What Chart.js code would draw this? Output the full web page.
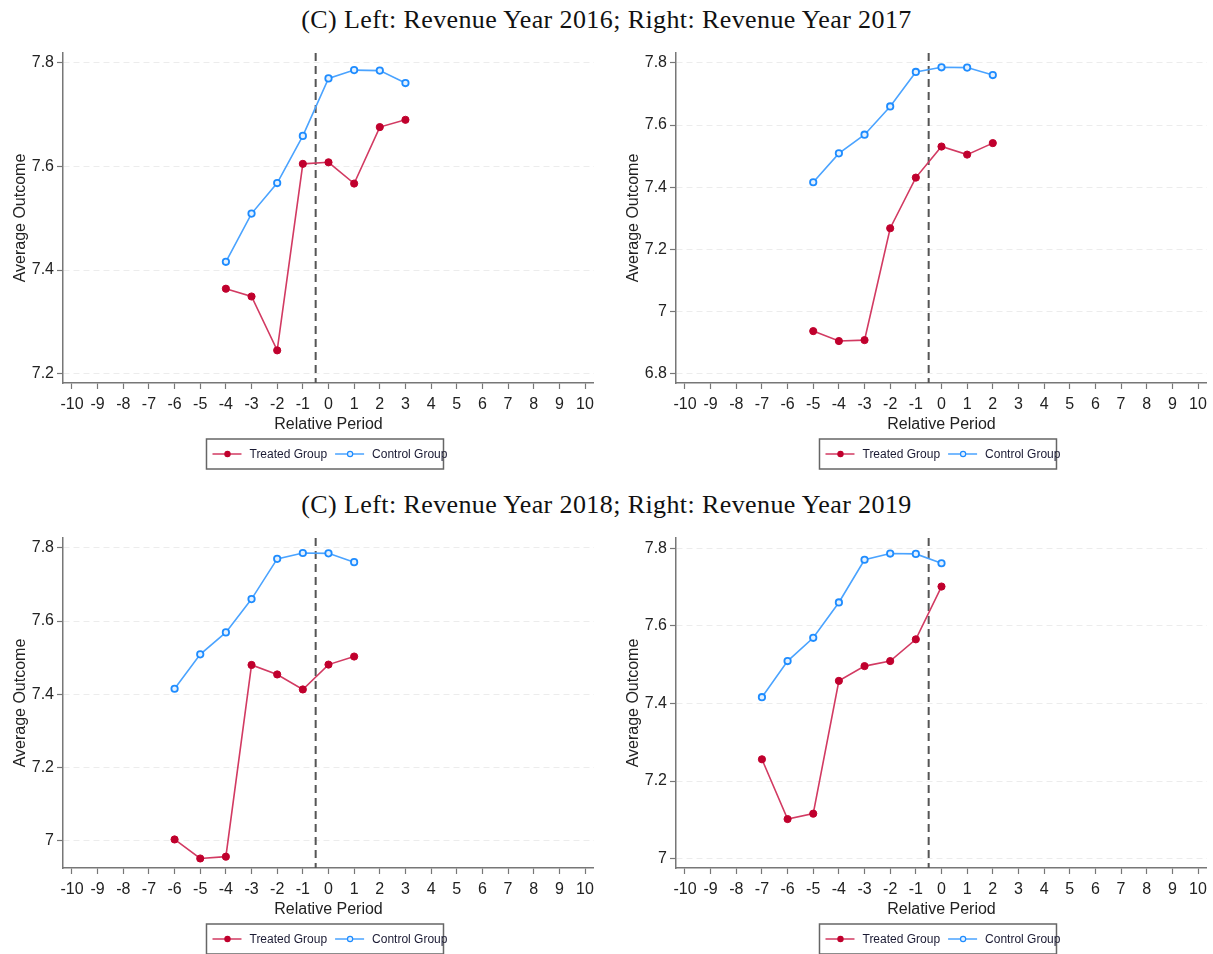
<!DOCTYPE html>
<html>
<head>
<meta charset="utf-8">
<script src="https://cdn.jsdelivr.net/npm/chart.js@4.4.1/dist/chart.umd.min.js"></script>
<style>
  body { margin: 0; width: 1213px; height: 954px; background: #fff; position: relative; overflow: hidden; }
  .title { position: absolute; left: 0; width: 1213px; text-align: center; font-family: "Liberation Serif", serif; font-size: 26px; letter-spacing: 0.4px; line-height: 30px; color: #111; }
  canvas { position: absolute; }
</style>
</head>
<body>
<div class="title" style="top:5px">(C) Left: Revenue Year 2016; Right: Revenue Year 2017</div>
<div class="title" style="top:490px">(C) Left: Revenue Year 2018; Right: Revenue Year 2019</div>
<canvas id="c2016" width="600" height="440" style="left:0;top:38px"></canvas>
<canvas id="c2017" width="600" height="440" style="left:613px;top:38px"></canvas>
<canvas id="c2018" width="600" height="440" style="left:0;top:523px"></canvas>
<canvas id="c2019" width="600" height="440" style="left:613px;top:523px"></canvas>
<script>
// data
const xTicks = [-10, -9, -8, -7, -6, -5, -4, -3, -2, -1, 0, 1, 2, 3, 4, 5, 6, 7, 8, 9, 10];
const treatLineAt = -0.5;

const periods2016 = [-4, -3, -2, -1, 0, 1, 2, 3];
const treated2016 = [7.364, 7.349, 7.245, 7.605, 7.608, 7.567, 7.676, 7.690];
const control2016 = [7.416, 7.509, 7.568, 7.659, 7.770, 7.786, 7.785, 7.761];
const yTicks2016 = [7.2, 7.4, 7.6, 7.8];

const periods2017 = [-5, -4, -3, -2, -1, 0, 1, 2];
const treated2017 = [6.937, 6.905, 6.908, 7.268, 7.431, 7.531, 7.505, 7.542];
const control2017 = [7.416, 7.509, 7.569, 7.660, 7.771, 7.786, 7.785, 7.761];
const yTicks2017 = [6.8, 7.0, 7.2, 7.4, 7.6, 7.8];

const periods2018 = [-6, -5, -4, -3, -2, -1, 0, 1];
const treated2018 = [7.003, 6.951, 6.956, 7.480, 7.454, 7.413, 7.481, 7.503];
const control2018 = [7.415, 7.509, 7.569, 7.660, 7.770, 7.786, 7.785, 7.761];
const yTicks2018 = [7.0, 7.2, 7.4, 7.6, 7.8];

const periods2019 = [-7, -6, -5, -4, -3, -2, -1, 0];
const treated2019 = [7.256, 7.102, 7.116, 7.458, 7.496, 7.509, 7.565, 7.701];
const control2019 = [7.416, 7.509, 7.569, 7.660, 7.770, 7.786, 7.785, 7.761];
const yTicks2019 = [7.0, 7.2, 7.4, 7.6, 7.8];

const treatedColor = "#c0002d";
const treatedLine = "#d23a62";
const controlColor = "#1e8cff";
const controlLine = "#4aa3ff";
const sans = "'Liberation Sans', Arial, sans-serif";

// dashed line at the treatment date
const treatLinePlugin = {
  id: "treatLine",
  beforeDatasetsDraw(chart) {
    const { ctx, chartArea, scales } = chart;
    const x = scales.x.getPixelForValue(treatLineAt);
    ctx.save();
    ctx.strokeStyle = "#555";
    ctx.lineWidth = 2;
    ctx.setLineDash([8, 5]);
    ctx.beginPath();
    ctx.moveTo(x, chartArea.top);
    ctx.lineTo(x, chartArea.bottom);
    ctx.stroke();
    ctx.restore();
  }
};

// stata style legend: boxed, line with marker in the middle
const boxLegendPlugin = {
  id: "boxLegend",
  afterDraw(chart) {
    const { ctx, chartArea } = chart;
    const mid = (chartArea.left + chartArea.right) / 2;
    const left = mid - 122;
    const top = chartArea.bottom + 56;
    const w = 237, h = 30;
    const cy = top + h / 2;
    ctx.save();
    ctx.strokeStyle = "#666";
    ctx.lineWidth = 1.5;
    ctx.strokeRect(left, top, w, h);
    ctx.font = "12px " + sans;
    ctx.textBaseline = "middle";
    ctx.textAlign = "left";
    let x = left + 6;
    chart.data.datasets.forEach((ds) => {
      ctx.strokeStyle = ds.borderColor;
      ctx.lineWidth = 1.5;
      ctx.beginPath();
      ctx.moveTo(x, cy);
      ctx.lineTo(x + 29, cy);
      ctx.stroke();
      ctx.beginPath();
      ctx.arc(x + 15, cy, 2.6, 0, Math.PI * 2);
      ctx.fillStyle = ds.pointBackgroundColor;
      ctx.fill();
      ctx.strokeStyle = ds.pointBorderColor;
      ctx.lineWidth = 1.2;
      ctx.stroke();
      ctx.fillStyle = "#1a1a33";
      ctx.fillText(ds.label, x + 37, cy + 1);
      x += 37 + ctx.measureText(ds.label).width + 8;
    });
    ctx.restore();
  }
};

function makePanel(id, periods, treated, control, yMin, yMax, yTicks) {
  const pts = (ys) => periods.map((p, i) => ({ x: p, y: ys[i] }));
  return new Chart(document.getElementById(id), {
    type: "line",
    data: {
      datasets: [
        {
          label: "Treated Group",
          data: pts(treated),
          borderColor: treatedLine,
          borderWidth: 1.6,
          pointRadius: 3.6,
          pointBackgroundColor: treatedColor,
          pointBorderColor: treatedColor,
          pointBorderWidth: 1,
          tension: 0
        },
        {
          label: "Control Group",
          data: pts(control),
          borderColor: controlLine,
          borderWidth: 1.6,
          pointRadius: 3.2,
          pointBackgroundColor: "#e4f1ff",
          pointBorderColor: controlColor,
          pointBorderWidth: 1.8,
          tension: 0
        }
      ]
    },
    options: {
      responsive: false,
      animation: false,
      layout: { padding: { left: 0, top: 15, right: 2, bottom: 39 } },
      plugins: { legend: { display: false }, tooltip: { enabled: false } },
      scales: {
        x: {
          type: "linear",
          min: -10.35,
          max: 10.35,
          afterBuildTicks: (s) => { s.ticks = xTicks.map((v) => ({ value: v })); },
          afterFit: (s) => { s.height = 56; },
          grid: { drawOnChartArea: false, drawTicks: true, tickLength: 6, tickColor: "#777", tickWidth: 1.2 },
          border: { color: "#777", width: 1.5 },
          ticks: { color: "#222", font: { family: sans, size: 16 }, padding: 6, maxRotation: 0, autoSkip: false, callback: (v) => String(v) },
          title: { display: true, text: "Relative Period", color: "#222", font: { family: sans, size: 16 }, padding: { top: 0, bottom: 5 } }
        },
        y: {
          min: yMin,
          max: yMax,
          afterBuildTicks: (s) => { s.ticks = yTicks.map((v) => ({ value: v })); },
          afterFit: (s) => { s.width = 63; },
          grid: { color: "#ececec", lineWidth: 1, drawTicks: true, tickLength: 6, tickColor: "#777", tickWidth: 1.2 },
          border: { color: "#777", width: 1.5, dash: [6, 4] },
          ticks: { color: "#222", font: { family: sans, size: 16 }, padding: 3, callback: (v) => String(Math.round(v * 10) / 10) },
          title: { display: true, text: "Average Outcome", color: "#222", font: { family: sans, size: 16 }, padding: { top: 11, bottom: 0 } }
        }
      }
    },
    plugins: [treatLinePlugin, boxLegendPlugin]
  });
}

makePanel("c2016", periods2016, treated2016, control2016, 7.182, 7.819, yTicks2016);
makePanel("c2017", periods2017, treated2017, control2017, 6.770, 7.832, yTicks2017);
makePanel("c2018", periods2018, treated2018, control2018, 6.925, 7.827, yTicks2018);
makePanel("c2019", periods2019, treated2019, control2019, 6.976, 7.826, yTicks2019);
</script>
</body>
</html>
